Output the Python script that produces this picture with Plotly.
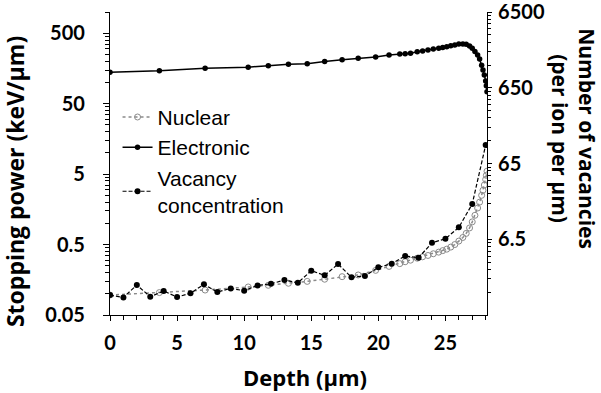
import numpy as np
import plotly.graph_objects as go

# ---- data ----
depth = [0, 3.68, 7.09, 10.3, 11.8, 13.3, 14.7, 16.0, 17.3, 18.5, 19.8, 20.8, 21.6, 22.0, 22.4,
         22.9, 23.3, 23.7, 24.1, 24.5, 24.8, 25.1, 25.4, 25.7, 26.0, 26.3, 26.55, 26.8, 27.0,
         27.2, 27.4, 27.55, 27.7, 27.8, 27.9, 28.0, 28.05, 28.1]
electronic = [140, 147, 159, 165, 173, 181, 184, 199, 210, 220, 229, 245, 253, 256, 259,
              273, 279, 288, 298, 306, 314, 322, 332, 340, 350, 352, 348, 330, 305,
              275, 245, 215, 175, 150, 128, 105, 90, 74]
nuclear = [0.096, 0.104, 0.113, 0.125, 0.132, 0.141, 0.150, 0.161, 0.175, 0.185, 0.215, 0.245,
           0.268, 0.285, 0.30, 0.32, 0.335, 0.35, 0.37, 0.39, 0.41, 0.43, 0.46, 0.50, 0.56,
           0.63, 0.72, 0.86, 1.05, 1.3, 1.65, 2.0, 2.5, 2.95, 3.5, 4.2, 4.8, 5.5]
vac_depth = [0, 1, 2, 3, 4, 5, 6, 7, 8, 9, 10, 11, 12, 13, 14, 15, 16, 17, 18, 19, 20,
             21, 22, 23, 24, 25, 26, 27, 28.0]
vacancy = [1.19, 1.11, 1.62, 1.13, 1.35, 1.12, 1.26, 1.65, 1.31, 1.46, 1.36, 1.60, 1.68, 1.88,
           1.73, 2.50, 2.17, 3.06, 2.05, 2.13, 2.77, 3.09, 3.91, 3.71, 5.85, 6.61, 9.35, 19.0, 114]

x_ticks = [0, 5, 10, 15, 20, 25]
y1_ticks = [0.05, 0.5, 5, 50, 500]
y1_ticktext = ["0.05", "0.5", "5", "50", "500"]
y2_ticks = [6.5, 65, 650, 6500]
y2_ticktext = ["6.5", "65", "650", "6500"]

y1_minor = [b * k for b in [0.05, 0.5, 5, 50, 500] for k in range(2, 10) if b * k <= 1000]
y2_minor = [b * k for b in [0.65, 6.5, 65, 650] for k in range(2, 10)]

fig = go.Figure()
fig.add_trace(go.Scatter(
    x=depth, y=nuclear, name="Nuclear", mode="lines+markers",
    line=dict(color="#8a8a8a", width=1.5, dash="dot"),
    marker=dict(symbol="circle-open", size=6, color="#8a8a8a", line=dict(width=1)),
))
fig.add_trace(go.Scatter(
    x=depth, y=electronic, name="Electronic", mode="lines+markers",
    line=dict(color="black", width=1.5),
    marker=dict(symbol="circle", size=5.5, color="black"),
))
fig.add_trace(go.Scatter(
    x=vac_depth, y=vacancy, name="Vacancy<br>concentration", mode="lines+markers",
    line=dict(color="black", width=1.2, dash="4px,2px"),
    marker=dict(symbol="circle", size=6, color="black"),
    yaxis="y2",
))

tick_font = dict(family="Lato", size=20, color="black", weight="bold")
title_font = dict(family="Open Sans", size=23, color="black", weight="bold")
xtitle_font = dict(family="Open Sans", size=22, color="black", weight="bold")
rtitle_font = dict(family="Open Sans", size=21, color="black", weight="bold")

fig.update_layout(
    width=601, height=393,
    margin=dict(l=110, r=114, t=12, b=78, autoexpand=False),
    paper_bgcolor="white", plot_bgcolor="white",
    showlegend=True,
    legend=dict(
        x=0.02, y=0.72, xanchor="left", yanchor="top",
        font=dict(family="Liberation Sans", size=21, color="black"),
        bgcolor="rgba(0,0,0,0)", itemwidth=30, tracegroupgap=0,
    ),
    xaxis=dict(
        range=[0, 28.1], tickvals=x_ticks, ticktext=[str(v) for v in x_ticks],
        showline=True, linecolor="black", linewidth=1.2, mirror=False,
        ticks="outside", ticklen=5, tickcolor="black", tickwidth=1,
        minor=dict(ticks="outside", dtick=1, ticklen=4, tickcolor="black", showgrid=False),
        showgrid=False, zeroline=False, automargin=False,
        tickfont=tick_font, ticklabelstandoff=5,
    ),
    yaxis=dict(
        type="log", range=[np.log10(0.05), 3.0],
        tickvals=y1_ticks, ticktext=y1_ticktext,
        showline=True, linecolor="black", linewidth=1.2,
        ticks="outside", ticklen=6, tickcolor="black",
        minor=dict(ticks="outside", tickvals=y1_minor, ticklen=4, tickcolor="black", showgrid=False),
        showgrid=False, zeroline=False, automargin=False,
        tickfont=tick_font, ticklabelstandoff=14,
    ),
    yaxis2=dict(
        type="log", range=[np.log10(0.65), np.log10(6500) + 0.002],
        overlaying="y", side="right",
        tickvals=y2_ticks, ticktext=y2_ticktext,
        showline=True, linecolor="black", linewidth=1.2,
        ticks="outside", ticklen=4, tickcolor="black",
        minor=dict(ticks="outside", tickvals=y2_minor, ticklen=3, tickcolor="black", showgrid=False),
        showgrid=False, zeroline=False, automargin=False,
        tickfont=tick_font, ticklabelstandoff=2, ticklabeloverflow="allow",
    ),
)

fig.add_annotation(
    text="Stopping power (keV/µm)",
    xref="paper", yref="paper", x=-0.252, y=0.442, xanchor="center", yanchor="middle",
    textangle=-90, showarrow=False, font=title_font,
)
fig.add_annotation(
    text="Depth (µm)",
    xref="paper", yref="paper", x=0.517, y=-0.205, xanchor="center", yanchor="middle",
    showarrow=False, font=xtitle_font,
)
fig.add_annotation(
    text="Number of vacancies<br>(per ion per µm)",
    xref="paper", yref="paper", x=1.229, y=0.5825, xanchor="center", yanchor="middle",
    textangle=90, showarrow=False, font=rtitle_font, align="center",
)

fig.write_html("out.html")
